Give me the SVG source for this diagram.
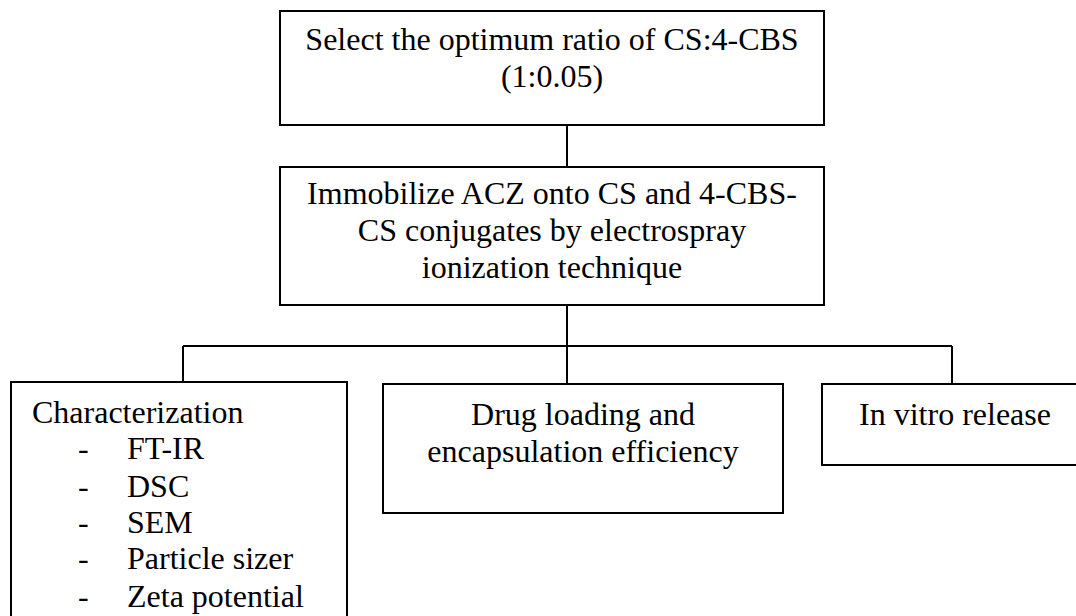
<svg xmlns="http://www.w3.org/2000/svg" width="1076" height="616" viewBox="0 0 1076 616">
  <style>
    .box { fill: #ffffff; stroke: #000000; stroke-width: 2; }
    .link { fill: none; stroke: #000000; stroke-width: 2; }
    text { font-family: 'Liberation Serif', 'Times New Roman', serif; font-size: 32px; fill: #000000; }
    .c { text-anchor: middle; }
  </style>
  <rect width="1076" height="616" fill="#ffffff"/>

  <!-- connectors -->
  <g id="connectors">
    <line class="link" x1="567" y1="125" x2="567" y2="167"/>
    <line class="link" x1="567" y1="305" x2="567" y2="384"/>
    <line class="link" x1="183" y1="346" x2="952" y2="346"/>
    <line class="link" x1="183" y1="346" x2="183" y2="382"/>
    <line class="link" x1="952" y1="346" x2="952" y2="384"/>
  </g>

  <!-- select ratio -->
  <g id="node-ratio">
    <rect class="box" x="280" y="11" width="544" height="114"/>
    <text class="c" x="552" y="50">Select the optimum ratio of CS:4-CBS</text>
    <text class="c" x="552" y="87">(1:0.05)</text>
  </g>

  <!-- immobilization -->
  <g id="node-immobilize">
    <rect class="box" x="280" y="167" width="544" height="138"/>
    <text class="c" x="552" y="204">Immobilize ACZ onto CS and 4-CBS-</text>
    <text class="c" x="552" y="241">CS conjugates by electrospray</text>
    <text class="c" x="552" y="278">ionization technique</text>
  </g>

  <!-- characterization -->
  <g id="node-characterization">
    <rect class="box" x="11" y="382" width="336" height="250"/>
    <text x="32" y="423">Characterization</text>
    <text x="78" y="459">-</text><text x="127" y="459">FT-IR</text>
    <text x="78" y="497">-</text><text x="127" y="497">DSC</text>
    <text x="78" y="533">-</text><text x="127" y="533">SEM</text>
    <text x="78" y="569">-</text><text x="127" y="569">Particle sizer</text>
    <text x="78" y="607">-</text><text x="127" y="607">Zeta potential</text>
  </g>

  <!-- drug loading -->
  <g id="node-loading">
    <rect class="box" x="383" y="384" width="400" height="129"/>
    <text class="c" x="583" y="425">Drug loading and</text>
    <text class="c" x="583" y="462">encapsulation efficiency</text>
  </g>

  <!-- release -->
  <g id="node-release">
    <rect class="box" x="822" y="384" width="266" height="81"/>
    <text class="c" x="955" y="425">In vitro release</text>
  </g>
</svg>
